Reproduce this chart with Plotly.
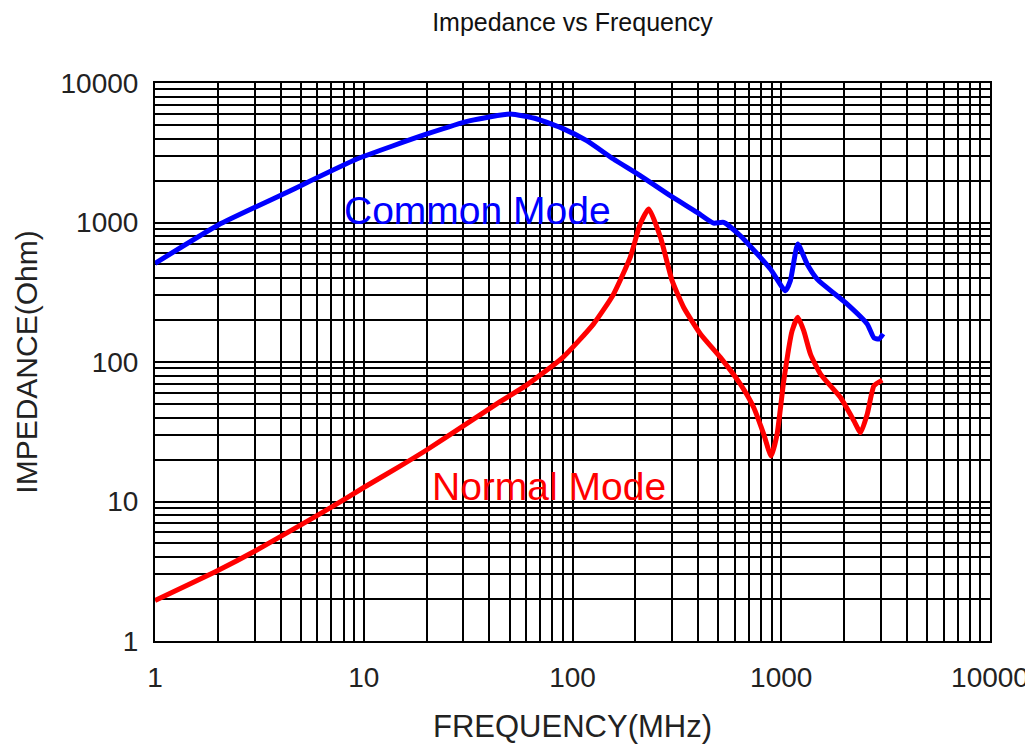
import plotly.graph_objects as go

# Common Mode impedance (Ohm) vs frequency (MHz)
cm_freq = [1, 2.01, 4.12, 9.27, 20.1, 32.4, 50.3, 67.6, 90.6, 117, 157, 211, 294, 395, 474,
           530, 637, 887, 1047, 1106, 1200, 1330, 1486, 2070, 2582, 2780, 2936, 3077]
cm_imp = [509, 960, 1600, 2850, 4310, 5370, 6000, 5520, 4690, 3860, 2852, 2168, 1556, 1183, 990,
          1002, 804, 464, 324, 383, 701, 504, 393, 260, 187, 149, 146, 159]

# Normal Mode impedance (Ohm) vs frequency (MHz)
nm_freq = [1, 2, 3, 5, 7, 10, 15, 20, 30, 45, 60, 90, 126, 157, 189, 211, 232,
           264, 300, 341, 410, 511, 637, 738, 824, 894, 955, 1028, 1127, 1200, 1282, 1380,
           1542, 1923, 2228, 2399, 2582, 2780, 3048]
nm_imp = [1.95, 3.2, 4.4, 6.8, 9.1, 12.6, 18.0, 23.4, 34.8, 52, 68, 108, 187, 305, 562, 975, 1250,
          782, 383, 246, 159, 108, 69.4, 47.2, 30.4, 21.2, 30.4, 73.3, 167, 209, 167, 114,
          81.9, 55.6, 37.9, 31.2, 42.3, 67.5, 74.1]

decades = [1, 10, 100, 1000, 10000]
decade_labels = ["1", "10", "100", "1000", "10000"]

grid_vals = []
grid_text = []
for i, d in enumerate(decades[:-1]):
    for m in range(1, 10):
        grid_vals.append(d * m)
        grid_text.append(decade_labels[i] if m == 1 else "")
grid_vals.append(decades[-1])
grid_text.append(decade_labels[-1])

FONT = "Liberation Sans, Arial, sans-serif"

fig = go.Figure()
fig.add_trace(go.Scatter(x=cm_freq, y=cm_imp, mode="lines", name="Common Mode",
                         line=dict(color="#0000FF", width=5, shape="spline", smoothing=0.5)))
fig.add_trace(go.Scatter(x=nm_freq, y=nm_imp, mode="lines", name="Normal Mode",
                         line=dict(color="#FF0000", width=5, shape="spline", smoothing=0.5)))

fig.add_annotation(x=1.547, y=3.085, xref="x", yref="y", text="Common Mode", showarrow=False,
                   font=dict(color="#0000FF", size=39, family=FONT))
fig.add_annotation(x=1.886, y=1.105, xref="x", yref="y", text="Normal Mode", showarrow=False,
                   font=dict(color="#FF0000", size=39, family=FONT))

axis_common = dict(
    type="log", tickmode="array", tickvals=grid_vals, ticktext=grid_text,
    showgrid=True, gridcolor="black", gridwidth=2,
    showline=True, linecolor="black", linewidth=2, mirror=True,
    ticks="", tickfont=dict(size=28, color="#222222", family=FONT),
    zeroline=False, automargin=False,
)

fig.update_layout(
    width=1025, height=738,
    margin=dict(l=147, r=43, t=75, b=105, autoexpand=False),
    paper_bgcolor="white", plot_bgcolor="white",
    showlegend=False,
    font=dict(family=FONT, color="#222222"),
    title=dict(text="Impedance vs Frequency", x=0.5, xref="paper", xanchor="center",
               y=1 - 14 / 738, yref="container", yanchor="middle",
               font=dict(size=25, color="#111111")),
    xaxis=dict(axis_common, range=[0, 4], ticklabelstandoff=10,
               title=dict(text="FREQUENCY(MHz)", font=dict(size=31, color="#222222"), standoff=24)),
    yaxis=dict(axis_common, range=[0, 4], ticklabelstandoff=9,
               title=dict(text="IMPEDANCE(Ohm)", font=dict(size=30, color="#222222"), standoff=14)),
)

fig.write_html("out.html")
